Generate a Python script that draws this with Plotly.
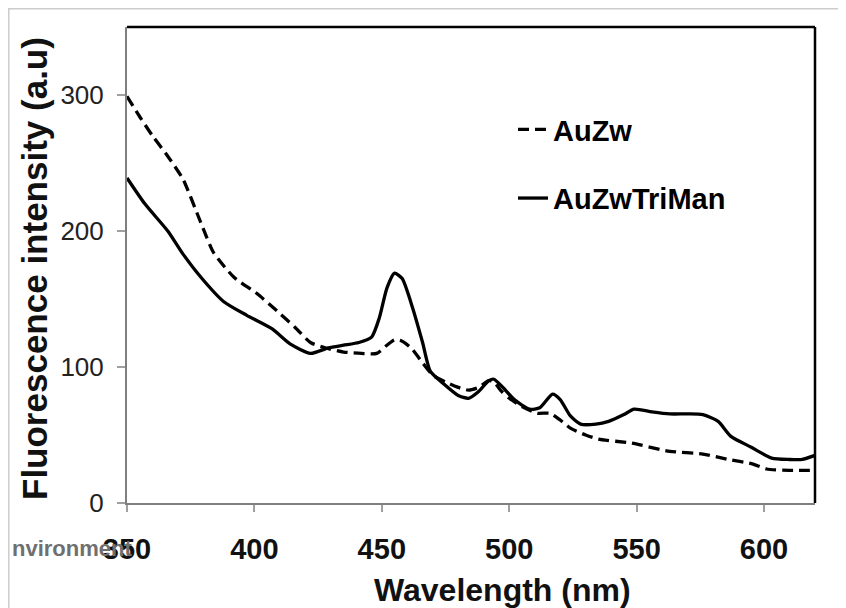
import plotly.graph_objects as go

# AuZw (dashed)
auzw_wl = [350, 355, 360, 366, 372, 379, 384, 392, 401, 409, 416, 422, 428, 435, 442, 448,
           452, 455, 458, 462, 466, 470, 475, 480, 484, 488, 492, 494, 497, 500, 505, 511,
           516, 520, 524, 530, 535, 548, 563, 576, 586, 595, 601, 610, 620]
auzw_val = [299, 284, 270, 255, 238, 206, 184, 166, 154, 141, 129, 118, 114, 111, 110, 110,
            116, 120, 119, 113, 103, 94, 89, 85, 83, 85, 90, 89, 82, 77, 71, 66,
            66, 61, 55, 50, 47, 44, 38, 36, 32, 29, 25, 24, 24]

# AuZwTriMan (solid)
tri_wl = [350, 357, 366, 372, 379, 388, 397, 407, 414, 422, 429, 435, 441, 446, 449, 452,
          455, 458, 462, 466, 469, 474, 480, 484, 488, 492, 494, 497, 502, 508, 512, 517,
          520, 524, 528, 534, 539, 545, 549, 556, 563, 570, 576, 582, 587, 595, 603, 610,
          615, 620]
tri_val = [239, 220, 200, 183, 166, 148, 138, 128, 117, 110, 114, 116, 118, 122, 136, 158,
           169, 165, 144, 118, 97, 88, 79, 77, 82, 90, 91, 86, 76, 69, 70, 80,
           76, 64, 58, 58, 60, 65, 69, 67, 65.5, 65.5, 65, 60, 49, 41, 33, 32,
           32, 35]

series_names = ["AuZw", "AuZwTriMan"]
x_ticks = [350, 400, 450, 500, 550, 600]
y_ticks = [0, 100, 200, 300]

# page body has an 8px margin; figure is sized to fit the window
OFF = 8
W, H = 846 - OFF, 608 - OFF
L, R, T, B = 127 - OFF, 846 - 815, 27 - OFF, 608 - 503


def fx(page_x):
    return (page_x - OFF - L) / (W - L - R)


def fy(page_y):
    return (H - B - (page_y - OFF)) / (H - T - B)


fig = go.Figure()
fig.add_trace(go.Scatter(
    x=auzw_wl, y=auzw_val, mode="lines", name=series_names[0], legendgroup="a",
    line=dict(color="black", width=3.3, dash="11px,6px", shape="spline", smoothing=0.6),
))
fig.add_trace(go.Scatter(
    x=tri_wl, y=tri_val, mode="lines", name=series_names[1], legendgroup="b",
    line=dict(color="black", width=3.3, shape="spline", smoothing=0.6),
))

fig.update_layout(
    width=W, height=H,
    margin=dict(l=L, r=R, t=T, b=B),
    paper_bgcolor="white", plot_bgcolor="white",
    font=dict(family="Liberation Sans, Arial, sans-serif", color="black"),
    showlegend=True,
    legend=dict(
        x=fx(513), y=fy(104), xanchor="left", yanchor="top",
        font=dict(size=29, weight="bold", color="black"),
        bgcolor="rgba(0,0,0,0)", traceorder="grouped", tracegroupgap=28,
    ),
    xaxis=dict(
        range=[350, 620], tickvals=x_ticks, showgrid=False, zeroline=False,
        showline=True, linecolor="#7f7f7f", linewidth=2,
        ticks="outside", ticklen=7, tickcolor="#a0a0a0", tickwidth=1.5,
        tickfont=dict(size=29, weight="bold", color="#111"),
        ticklabelstandoff=12,
    ),
    yaxis=dict(
        range=[0, 350], tickvals=y_ticks, showgrid=False, zeroline=False,
        showline=True, linecolor="#7f7f7f", linewidth=2,
        ticks="outside", ticklen=8, tickcolor="#a0a0a0", tickwidth=1.5,
        tickfont=dict(size=26, color="#222"),
        ticklabelstandoff=8,
    ),
    shapes=[
        dict(type="line", xref="paper", yref="paper", x0=0, x1=1, y0=1, y1=1,
             line=dict(color="black", width=2.5)),
        dict(type="line", xref="paper", yref="paper", x0=1, x1=1, y0=0, y1=1,
             line=dict(color="black", width=2.5)),
        # outer frame of the figure panel
        dict(type="line", xref="paper", yref="paper", x0=fx(8), x1=fx(846),
             y0=fy(8.8), y1=fy(8.8), line=dict(color="#cccccc", width=1.5)),
        dict(type="line", xref="paper", yref="paper", x0=fx(8.8), x1=fx(8.8),
             y0=fy(8.8), y1=fy(608), line=dict(color="#cccccc", width=1.5)),
    ],
    annotations=[
        dict(text="Wavelength (nm)", xref="paper", yref="paper",
             x=fx(502), y=fy(590), xanchor="center", yanchor="middle",
             showarrow=False, font=dict(size=32, weight="bold", color="#111")),
        dict(text="Fluorescence intensity (a.u)", xref="paper", yref="paper",
             x=fx(34), y=fy(269), xanchor="center", yanchor="middle",
             textangle=-90, showarrow=False,
             font=dict(size=35, weight="bold", color="#111")),
        dict(text="nvironment", xref="paper", yref="paper",
             x=fx(134), y=fy(548), xanchor="right", yanchor="middle",
             showarrow=False, font=dict(size=22, weight="bold", color="#6f6f6f")),
    ],
)

fig.write_html("out.html")
